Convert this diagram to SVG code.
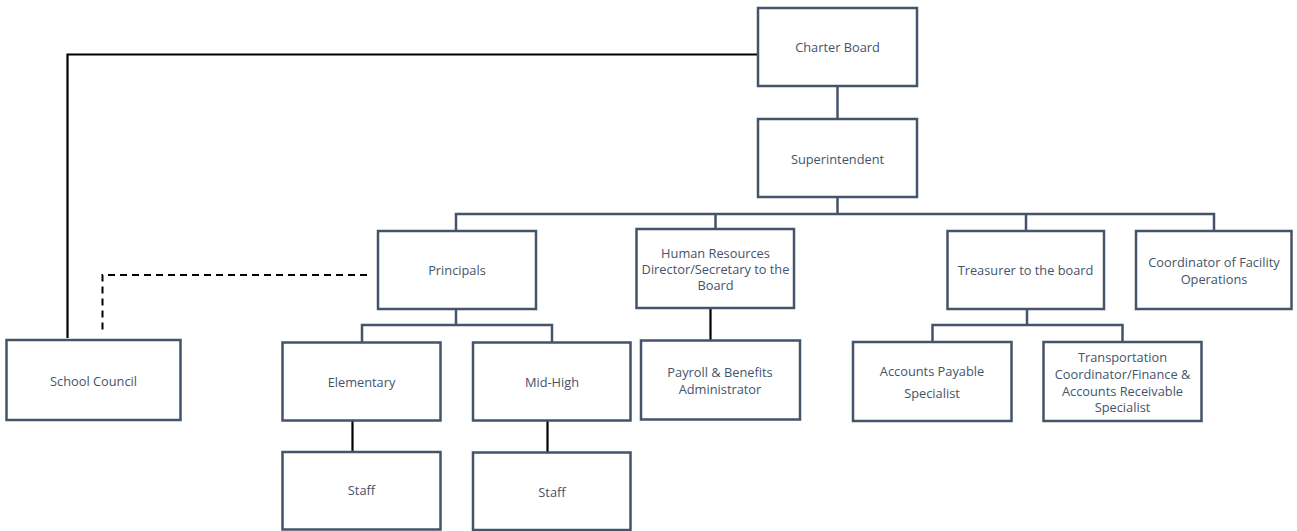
<svg xmlns="http://www.w3.org/2000/svg" width="1297" height="531" viewBox="0 0 1297 531">
<style>
.box{fill:#fff;stroke:#44546a;stroke-width:2.5}
.t{font-family:"Open Sans","Liberation Sans",sans-serif;font-size:12.8px;fill:#44546a;text-anchor:middle;dominant-baseline:central}
.org{fill:none;stroke:#44546a;stroke-width:2.5}
.blk{fill:none;stroke:#000;stroke-width:2.2}
.dash{fill:none;stroke:#000;stroke-width:2;stroke-dasharray:7 5}
</style>
<rect width="1297" height="531" fill="#fff"/>
<g id="connectors">
<path class="blk" d="M757 54.5 H67.5 V338"/>
<path class="dash" d="M367 275 H102.5 V334"/>
<path class="org" d="M837.5 86 V118"/>
<path class="org" d="M837.5 197 V214 M456 231 V214 H1214 V231 M715.5 214 V229 M1026 214 V231"/>
<path class="org" d="M456 309 V325 M362 343 V325 H552 V343"/>
<path class="org" d="M1027 309 V325 M932.5 342 V325 H1122.5 V342"/>
<path class="blk" d="M710.5 308 V341"/>
<path class="blk" d="M352.5 421 V452"/>
<path class="blk" d="M547.5 421 V452"/>
</g>
<g id="charter-board"><rect class="box" x="758" y="8" width="159" height="78"/><text class="t" x="837.5" y="47">Charter Board</text></g>
<g id="superintendent"><rect class="box" x="758" y="119" width="159" height="78"/><text class="t" x="837.5" y="158.5">Superintendent</text></g>
<g id="principals"><rect class="box" x="378" y="231" width="158" height="78"/><text class="t" x="457" y="269.5">Principals</text></g>
<g id="hr-director"><rect class="box" x="636.5" y="229" width="157.5" height="79"/><text class="t" x="715.5" y="252.5">Human Resources</text><text class="t" x="715.5" y="269">Director/Secretary to the</text><text class="t" x="715.5" y="284.5">Board</text></g>
<g id="treasurer"><rect class="box" x="947.5" y="231" width="156.5" height="78"/><text class="t" x="1025.5" y="269.5">Treasurer to the board</text></g>
<g id="facility-coordinator"><rect class="box" x="1136" y="231" width="155.5" height="78"/><text class="t" x="1214" y="262">Coordinator of Facility</text><text class="t" x="1214" y="279">Operations</text></g>
<g id="school-council"><rect class="box" x="6.5" y="340" width="174" height="80"/><text class="t" x="93.5" y="380.5">School Council</text></g>
<g id="elementary"><rect class="box" x="282.5" y="342.5" width="158" height="78"/><text class="t" x="361.5" y="381.5">Elementary</text></g>
<g id="mid-high"><rect class="box" x="473" y="342.5" width="157.5" height="78"/><text class="t" x="552" y="381.5">Mid-High</text></g>
<g id="payroll"><rect class="box" x="641" y="340.5" width="159" height="79"/><text class="t" x="720" y="371.5">Payroll &amp; Benefits</text><text class="t" x="720" y="388.5">Administrator</text></g>
<g id="accounts-payable"><rect class="box" x="853" y="342" width="158.5" height="79"/><text class="t" x="932" y="371">Accounts Payable</text><text class="t" x="932" y="392.5">Specialist</text></g>
<g id="transportation"><rect class="box" x="1043.5" y="342" width="158" height="79"/><text class="t" x="1122.5" y="357">Transportation</text><text class="t" x="1122.5" y="374">Coordinator/Finance &amp;</text><text class="t" x="1122.5" y="391">Accounts Receivable</text><text class="t" x="1122.5" y="407">Specialist</text></g>
<g id="staff-elementary"><rect class="box" x="282.5" y="452" width="158" height="77.5"/><text class="t" x="361.5" y="490">Staff</text></g>
<g id="staff-mid-high"><rect class="box" x="473" y="452.5" width="157.5" height="77.5"/><text class="t" x="552" y="491.5">Staff</text></g>
</svg>
